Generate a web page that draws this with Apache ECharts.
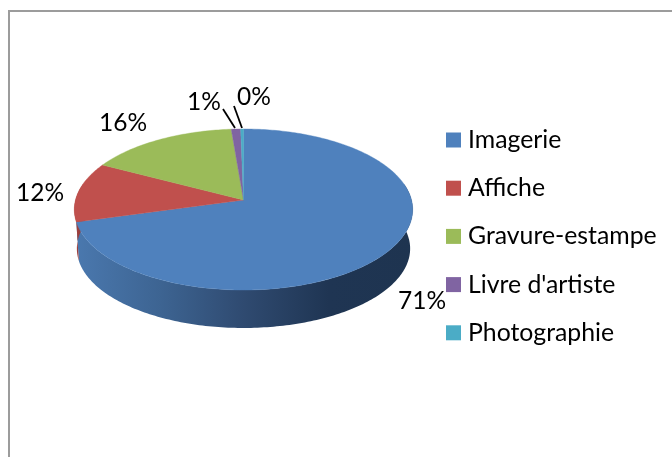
<!DOCTYPE html>
<html>
<head>
<meta charset="utf-8">
<style>html,body{margin:0;padding:0;background:#fff}#c{width:672px;height:457px}</style>
<script src="https://cdn.jsdelivr.net/npm/echarts@6/dist/echarts.min.js"></script>
</head>
<body>
<div id="c"></div>
<script>
// ---- data ----
const categories = ['Imagerie', 'Affiche', 'Gravure-estampe', "Livre d'artiste", 'Photographie'];
const shares = [70.7, 12.0, 16.0, 1.0, 0.3];

// ---- styles ----
const colors = ['#4F81BD', '#C0504D', '#9BBB59', '#8064A2', '#4BACC6'];
const wallStops = [
  ['#4A78AE', '#3D6492', '#2F4A70', '#1F3553', '#1E3450'],
  ['#A34341', '#8F3A38'], ['#83A04B', '#6F8840'], ['#6C5589', '#5C4875'], ['#3F92A8', '#357C8F']
];

// ---- perspective disc: circle of the pie seen from above ----
const disc = {cx: 243.5, apexY: 200, bx: 168, ay: 79.4, k: 0.118, wallDrop: 39.3, wallScale: 0.985};
const labelCenters = [[422, 301], [40, 193], [123, 123], [204, 102], [254, 97]];
const leaders = [null, null, null, [[223, 109], [235, 128]], [[234, 106], [242, 128]]];
const font = '24.5px Lato';

function rim(deg, scale, drop) {
  const t = deg * Math.PI / 180, u = Math.sin(t), v = Math.cos(t), d = 1 + disc.k * v;
  return [disc.cx + scale * disc.bx * u / d, disc.apexY + drop - scale * disc.ay * v / d];
}
function arc(a, b, scale, drop) {
  const n = Math.max(2, Math.ceil(Math.abs(b - a))), pts = [];
  for (let i = 0; i <= n; i++) pts.push(rim(a + (b - a) * i / n, scale, drop));
  return pts;
}
const total = shares.reduce((s, x) => s + x, 0);

function renderSlice(i) {
  return function (params, api) {
    const start = shares.slice(0, i).reduce((s, x) => s + x, 0) / total * 360;
    const end = start + api.value(0) / total * 360;
    const children = [];
    // visible front wall only
    const a = Math.max(start, 78), b = Math.min(end, 282);
    if (b > a) {
      const top = arc(a, b, 1, 0), bottom = arc(b, a, disc.wallScale, disc.wallDrop);
      const stops = wallStops[i].map((c, j, l) => ({offset: j / (l.length - 1), color: c}));
      children.push({
        type: 'polygon', z2: 1, silent: true,
        shape: {points: top.concat(bottom)},
        style: {fill: new echarts.graphic.LinearGradient(0, 0, 1, 0, stops)}
      });
    }
    children.push({
      type: 'polygon', z2: 2, silent: true,
      shape: {points: [[disc.cx, disc.apexY]].concat(arc(start, end, 1, 0))},
      style: {fill: colors[i], stroke: colors[i], lineWidth: 0.4}
    });
    const lc = labelCenters[i];
    children.push({
      type: 'text', z2: 4, silent: true,
      style: {x: lc[0], y: lc[1], text: Math.round(api.value(0)) + '%', font: font, fill: '#000',
              align: 'center', verticalAlign: 'middle'}
    });
    if (leaders[i]) {
      children.push({
        type: 'line', z2: 3, silent: true,
        shape: {x1: leaders[i][0][0], y1: leaders[i][0][1], x2: leaders[i][1][0], y2: leaders[i][1][1]},
        style: {stroke: '#000', lineWidth: 1.8}
      });
    }
    return {type: 'group', children};
  };
}

const chart = echarts.init(document.getElementById('c'), null, {renderer: 'canvas'});
chart.setOption({
  animation: false,
  backgroundColor: '#fff',
  graphic: [
    {type: 'rect', silent: true, shape: {x: 8, y: 10, width: 2, height: 447}, style: {fill: '#9C9C9C'}},
    {type: 'rect', silent: true, shape: {x: 8, y: 10, width: 664, height: 2}, style: {fill: '#9C9C9C'}}
  ],
  legend: {
    orient: 'vertical', left: 446, top: 127.5, padding: 0,
    itemWidth: 15, itemHeight: 15, itemGap: 23.2, selectedMode: false,
    icon: 'rect', data: categories,
    textStyle: {fontFamily: 'Lato', fontSize: 24.8, color: '#000', padding: [0, 0, 0, 2], lineHeight: 25}
  },
  series: categories.map((name, i) => ({
    type: 'custom', name, coordinateSystem: 'none', silent: true,
    itemStyle: {color: colors[i]},
    data: [[shares[i]]],
    renderItem: renderSlice(i)
  }))
});
</script>
</body>
</html>
